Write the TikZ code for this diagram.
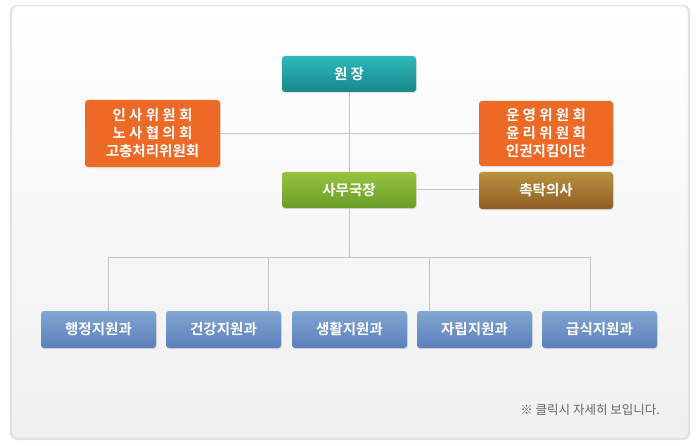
\documentclass[tikz,border=0pt]{standalone}
\usepackage{fontspec}
\setmainfont{Noto Sans CJK KR}[BoldFont={* Bold}]
\usetikzlibrary{shadows}
\definecolor{linec}{HTML}{C4C4C4}
\definecolor{tealT}{HTML}{2DB9BC}
\definecolor{tealB}{HTML}{1A878A}
\definecolor{orangeC}{HTML}{EC6A25}
\definecolor{greenT}{HTML}{96C23F}
\definecolor{greenB}{HTML}{6A9E28}
\definecolor{brownT}{HTML}{B8923E}
\definecolor{brownB}{HTML}{905C25}
\definecolor{blueT}{HTML}{82A6D1}
\definecolor{blueB}{HTML}{5A7FBB}
\definecolor{noteC}{HTML}{666666}
\tikzset{
  orgbox/.style={rounded corners=3pt, inner sep=0pt, align=center, text=white,
    font=\fontsize{14.5}{18}\selectfont\bfseries,
    drop shadow={opacity=0.22, shadow xshift=0.8pt, shadow yshift=-1.2pt}},
  conn/.style={draw=linec, line width=1pt},
}
\begin{document}
\begin{tikzpicture}[x=1pt,y=-1pt]
\useasboundingbox (0,0) rectangle (700,446);
% outer frame
\fill[black!12, rounded corners=7pt] (10,5) rectangle (690,440);
\shade[top color=white, bottom color=black!6, draw=black!10, rounded corners=6pt] (12,6) rectangle (688,438);
% nodes
\node[orgbox, top color=tealT, bottom color=tealB, minimum width=134pt, minimum height=36pt] (wj) at (349,74) {원 장};
\node[orgbox, fill=orangeC, minimum width=135pt, minimum height=67pt] (lc) at (152.5,133.5) {인 사 위 원 회\\노 사 협 의 회\\고충처리위원회};
\node[orgbox, fill=orangeC, minimum width=134pt, minimum height=65pt] (rc) at (546,133.5) {운 영 위 원 회\\윤 리 위 원 회\\인권지킴이단};
\node[orgbox, top color=greenT, bottom color=greenB, minimum width=134pt, minimum height=36pt] (sm) at (349,190) {사무국장};
\node[orgbox, top color=brownT, bottom color=brownB, minimum width=134pt, minimum height=37pt] (ct) at (546,190.5) {촉탁의사};
\foreach \n/\x/\t in {b1/98.5/행정지원과, b2/223.5/건강지원과, b3/349.5/생활지원과, b4/474.5/자립지원과, b5/599.5/급식지원과}{
  \node[orgbox, top color=blueT, bottom color=blueB, minimum width=115pt, minimum height=37pt] (\n) at (\x,329.5) {\t};
}
% junction coordinates
\coordinate (jc) at (349,257);
\coordinate (j1) at (108,257);
\coordinate (j2) at (268,257);
\coordinate (j4) at (429,257);
\coordinate (j5) at (590,257);
% connectors
\draw[conn] (lc.east) -- (rc.west |- lc.east);
\draw[conn] (wj.south) -- (sm.north);
\draw[conn] (sm.east) -- (ct.west |- sm.east);
\draw[conn] (sm.south) -- (jc);
\draw[conn] (j1) -- (j5);
\draw[conn] (j1) -- (j1 |- b1.north);
\draw[conn] (j2) -- (j2 |- b2.north);
\draw[conn] (j4) -- (j4 |- b4.north);
\draw[conn] (j5) -- (j5 |- b5.north);
% note
\node[anchor=east, text=noteC, font=\fontsize{12.5}{14}\selectfont, inner sep=0pt] (note) at (660,410) {※ 클릭시 자세히 보입니다.};
\end{tikzpicture}
\end{document}
